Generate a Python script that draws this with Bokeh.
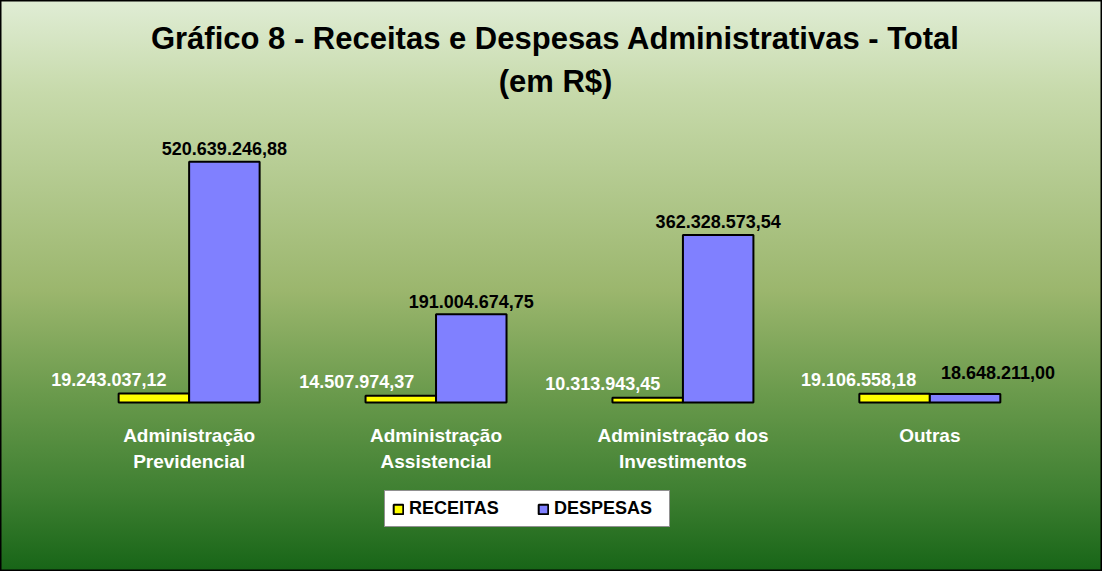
from bokeh.plotting import figure
from bokeh.models import ColumnDataSource, Range1d, Label, Legend, LegendItem
from bokeh.transform import dodge
from bokeh.core.properties import value
from bokeh.embed import file_html
from bokeh.resources import INLINE

# ---- data ----
categories = ["Administração\nPrevidencial", "Administração\nAssistencial",
              "Administração dos\nInvestimentos", "Outras"]
receitas = [19243037.12, 14507974.37, 10313943.45, 19106558.18]
despesas = [520639246.88, 191004674.75, 362328573.54, 18648211.00]
series_names = ["RECEITAS", "DESPESAS"]
title_lines = ["Gráfico 8 - Receitas e Despesas Administrativas - Total", "(em R$)"]

# ---- style ----
W, H = 1102, 571
FONT = "Liberation Sans"
YELLOW = "#FFFF00"
PURPLE = "#8080FF"
BW = 0.2855                        # bar width in category units
rec_label_dx = [-45, -44, -45, -36]  # label nudges (px), as placed in the original
des_label_dx = [0, 0, 0, 33]
des_label_dy = [-13, -13, -13, -21]


def br(v):
    s = f"{v:,.2f}"
    return s.replace(",", "#").replace(".", ",").replace("#", ".")


idx = list(range(len(categories)))
line1 = [c.split("\n")[0] for c in categories]
line2 = [c.split("\n")[1] if "\n" in c else "" for c in categories]

src = ColumnDataSource(dict(
    x=idx, receitas=receitas, despesas=despesas,
    rec_txt=[br(v) for v in receitas], des_txt=[br(v) for v in despesas],
    rec_dx=rec_label_dx, des_dx=des_label_dx, des_dy=des_label_dy,
    line1=line1, line2=line2, zero=[0] * len(idx),
))

ymax = max(despesas)
upp = ymax / 240.7                 # units per pixel
p = figure(width=W, height=H, output_backend="svg", toolbar_location=None,
           x_range=Range1d(-0.764, -0.764 + W / 246.9),
           y_range=Range1d(-169 * upp, ymax + 161.3 * upp),
           x_axis_location=None, y_axis_location=None, min_border=0)
p.grid.visible = False
p.background_fill_color = None
p.border_fill_color = None
p.outline_line_color = "black"
p.outline_line_width = 2
p.styles = {"background": "linear-gradient(to bottom, #E0EDD5 0%, #C7DAAB 16%, #9BB66D 51%, "
                          "#6A9A4C 69%, #3F8032 86%, #176517 100%)"}

r1 = p.vbar(x=dodge("x", -BW / 2), top="receitas", bottom=0, width=BW, source=src,
            fill_color=YELLOW, line_color="black", line_width=2)
r2 = p.vbar(x=dodge("x", BW / 2), top="despesas", bottom=0, width=BW, source=src,
            fill_color=PURPLE, line_color="black", line_width=2)

common = dict(text_font=value(FONT), text_font_style="bold", text_font_size="18px",
              text_align="center", text_baseline="alphabetic", source=src)
p.text(x=dodge("x", -BW / 2), y="receitas", text="rec_txt", x_offset="rec_dx",
       y_offset=-14, text_color="white", **common)
p.text(x=dodge("x", BW / 2), y="despesas", text="des_txt", x_offset="des_dx",
       y_offset="des_dy", text_color="black", **common)
cat = dict(common, text_font_size="19px")
p.text(x="x", y="zero", text="line1", y_offset=33, text_color="white", **cat)
p.text(x="x", y="zero", text="line2", y_offset=59, text_color="white", **cat)

for t, yb in zip(title_lines, [533.5, 490]):
    p.add_layout(Label(x=555, y=yb, x_units="screen", y_units="screen", text=t,
                       text_align="center", text_baseline="alphabetic",
                       text_font=FONT, text_font_style="bold", text_font_size="31px",
                       text_color="black"))

legend = Legend(items=[LegendItem(label=series_names[0], renderers=[r1]),
                       LegendItem(label=series_names[1], renderers=[r2])],
                orientation="horizontal", location=(384, 44),
                label_text_font=FONT, label_text_font_style="bold",
                label_text_font_size="18px", label_text_color="black",
                label_standoff=5, label_width=108, glyph_width=12, glyph_height=12,
                spacing=20, padding=7, margin=0, background_fill_color="white",
                background_fill_alpha=1, border_line_color="#222222",
                border_line_width=1.5)
p.add_layout(legend, "center")

open("out.html", "w").write(file_html(p, INLINE))
